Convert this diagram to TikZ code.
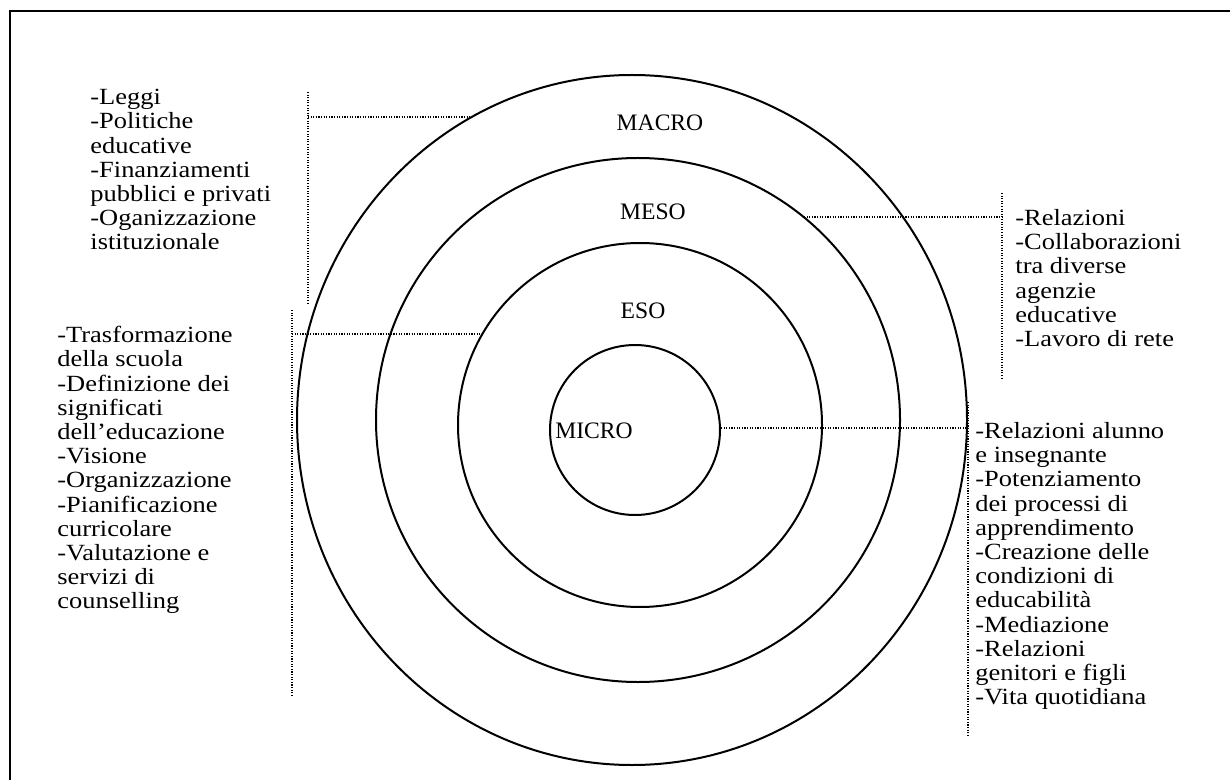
\documentclass[tikz,border=0pt]{standalone}
\usepackage{fontspec}
\setmainfont{Liberation Serif}
\newfontfamily\listfont[FakeStretch=1.14]{Liberation Serif}
\usetikzlibrary{shapes.geometric}
\begin{document}
\begin{tikzpicture}[x=0.5pt,y=-0.5pt,
  ring/.style={draw, line width=1pt, ellipse, inner sep=0pt},
  dotline/.style={line width=0.55pt, dash pattern=on 0.55pt off 0.75pt},
  lbl/.style={font=\fontsize{11.8}{12.1}\selectfont, inner sep=0pt},
  list/.style={font=\listfont\fontsize{11.6}{12.1}\selectfont, inner sep=0pt, align=left, anchor=north west, execute at begin node=\strut},
]
\useasboundingbox (0,0) rectangle (1230,780);
\draw[line width=1.1pt] (1230,11) -- (10,11) -- (10,780);

% circles
\node[ring, minimum width=335pt, minimum height=345pt] (macro) at (632,420) {};
\node[ring, minimum width=262pt, minimum height=262pt] (meso) at (638,420) {};
\node[ring, minimum width=182pt, minimum height=182pt] (eso) at (640,425) {};
\node[ring, minimum width=85pt, minimum height=85pt] (micro) at (635,430) {};

% circle labels
\node[lbl] (tmacro) at (660,123) {MACRO};
\node[lbl] (tmeso) at (653,212) {MESO};
\node[lbl] (teso) at (643,311) {ESO};
\node[lbl] (tmicro) at (594,431) {MICRO};

% text lists
\node[list] (lmacro) at (90,89) {-Leggi\\-Politiche\\educative\\-Finanziamenti\\pubblici e privati\\-Oganizzazione\\istituzionale};
\node[list] (leso) at (57,326) {-Trasformazione\\della scuola\\-Definizione dei\\significati\\dell’educazione\\-Visione\\-Organizzazione\\-Pianificazione\\curricolare\\-Valutazione e\\servizi di\\counselling};
\node[list] (lmeso) at (1015,209) {-Relazioni\\-Collaborazioni\\tra diverse\\agenzie\\educative\\-Lavoro di rete};
\node[list] (lmicro) at (975,422) {-Relazioni alunno\\e insegnante\\-Potenziamento\\dei processi di\\apprendimento\\-Creazione delle\\condizioni di\\educabilità\\-Mediazione\\-Relazioni\\genitori e figli\\-Vita quotidiana};

% brackets and leader lines
\coordinate (a1) at (308,92);
\coordinate (a2) at (308,305);
\coordinate (ah) at (308,117);
\coordinate (am) at (470,117);
\draw[dotline] (a1) -- (a2);
\draw[dotline] (ah) -- (am);

\coordinate (b1) at (292,310);
\coordinate (b2) at (292,695);
\coordinate (bh) at (292,334);
\coordinate (bm) at (482,334);
\draw[dotline] (b1) -- (b2);
\draw[dotline] (bh) -- (bm);

\coordinate (c1) at (1002,193);
\coordinate (c2) at (1002,380);
\coordinate (ch) at (1002,217);
\coordinate (cm) at (804,217);
\draw[dotline] (c1) -- (c2);
\draw[dotline] (cm) -- (ch);

\coordinate (d1) at (968,402);
\coordinate (d2) at (968,735);
\coordinate (dh) at (968,428);
\coordinate (dm) at (micro.east |- dh);
\draw[dotline] (d1) -- (d2);
\draw[dotline] (dm) -- (dh);
\end{tikzpicture}
\end{document}
